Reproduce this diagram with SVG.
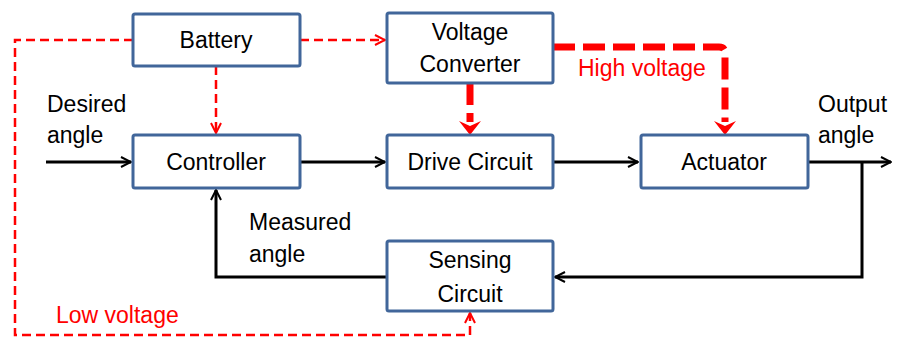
<svg xmlns="http://www.w3.org/2000/svg" width="899" height="337" viewBox="0 0 899 337">
<defs>
<style>
.box{fill:#fff;stroke:#41669A;stroke-width:3}
.t{font-family:"Liberation Sans",Arial,sans-serif;font-size:23px;fill:#000}
.c{text-anchor:middle}
.red{fill:#FF0000}
.blk{fill:none;stroke:#000;stroke-width:3}
.lv{fill:none;stroke:#FF0000;stroke-width:2.5;stroke-dasharray:9 5}
.hv{fill:none;stroke:#FF0000;stroke-width:7;stroke-dasharray:22 8}
</style>
<marker id="ab" viewBox="0 0 12 12" refX="11" refY="6" markerWidth="12" markerHeight="12" markerUnits="userSpaceOnUse" orient="auto">
<path d="M1,1 L11,6 L1,11" fill="none" stroke="#000" stroke-width="2"/>
</marker>
<marker id="ar" viewBox="0 0 12 12" refX="11" refY="6" markerWidth="12" markerHeight="12" markerUnits="userSpaceOnUse" orient="auto">
<path d="M1,1 L11,6 L1,11" fill="none" stroke="#FF0000" stroke-width="2"/>
</marker>
</defs>
<g id="connectors">
<path class="blk" d="M46,162 H131" marker-end="url(#ab)"/>
<path class="blk" d="M300,162 H385" marker-end="url(#ab)"/>
<path class="blk" d="M553,162 H638" marker-end="url(#ab)"/>
<path class="blk" d="M808,162 H891" marker-end="url(#ab)"/>
<path class="blk" d="M862,162 V277 H555" marker-end="url(#ab)"/>
<path class="blk" d="M387,277 H216 V190" marker-end="url(#ab)"/>
<path class="lv" d="M300,40 H385" marker-end="url(#ar)"/>
<path class="lv" d="M216,66 V133" marker-end="url(#ar)"/>
<path class="lv" d="M133,40 H15 V335 H470 V313" marker-end="url(#ar)"/>
<path class="hv" d="M470,83 V122"/>
<path d="M459,121 L470,135 L481,121 L470,126 Z" fill="#FF0000"/>
<path class="hv" d="M553,47 H719 Q725,47 725,53 V122" />
<path d="M714,121 L725,135 L736,121 L725,126 Z" fill="#FF0000"/>
</g>
<g id="battery"><rect class="box" x="133" y="14" width="167" height="52" rx="2"/><text class="t c" x="216" y="48">Battery</text></g>
<g id="voltage-converter"><rect class="box" x="387" y="13" width="166" height="70" rx="2"/><text class="t c" x="470" y="40">Voltage</text><text class="t c" x="470" y="72">Converter</text></g>
<g id="controller"><rect class="box" x="133" y="135" width="167" height="53" rx="2"/><text class="t c" x="216" y="170">Controller</text></g>
<g id="drive-circuit"><rect class="box" x="387" y="135" width="166" height="53" rx="2"/><text class="t c" x="470" y="170">Drive Circuit</text></g>
<g id="actuator"><rect class="box" x="641" y="135" width="167" height="53" rx="2"/><text class="t c" x="724" y="170">Actuator</text></g>
<g id="sensing-circuit"><rect class="box" x="387" y="241" width="166" height="70" rx="2"/><text class="t c" x="470" y="268">Sensing</text><text class="t c" x="470" y="302">Circuit</text></g>
<g id="labels">
<text class="t" x="47" y="112">Desired</text><text class="t" x="47" y="143">angle</text>
<text class="t" x="818" y="112">Output</text><text class="t" x="818" y="143">angle</text>
<text class="t" x="249" y="230">Measured</text><text class="t" x="249" y="262">angle</text>
<text class="t red" x="578" y="76">High voltage</text>
<text class="t red" x="56" y="323">Low voltage</text>
</g>
</svg>
